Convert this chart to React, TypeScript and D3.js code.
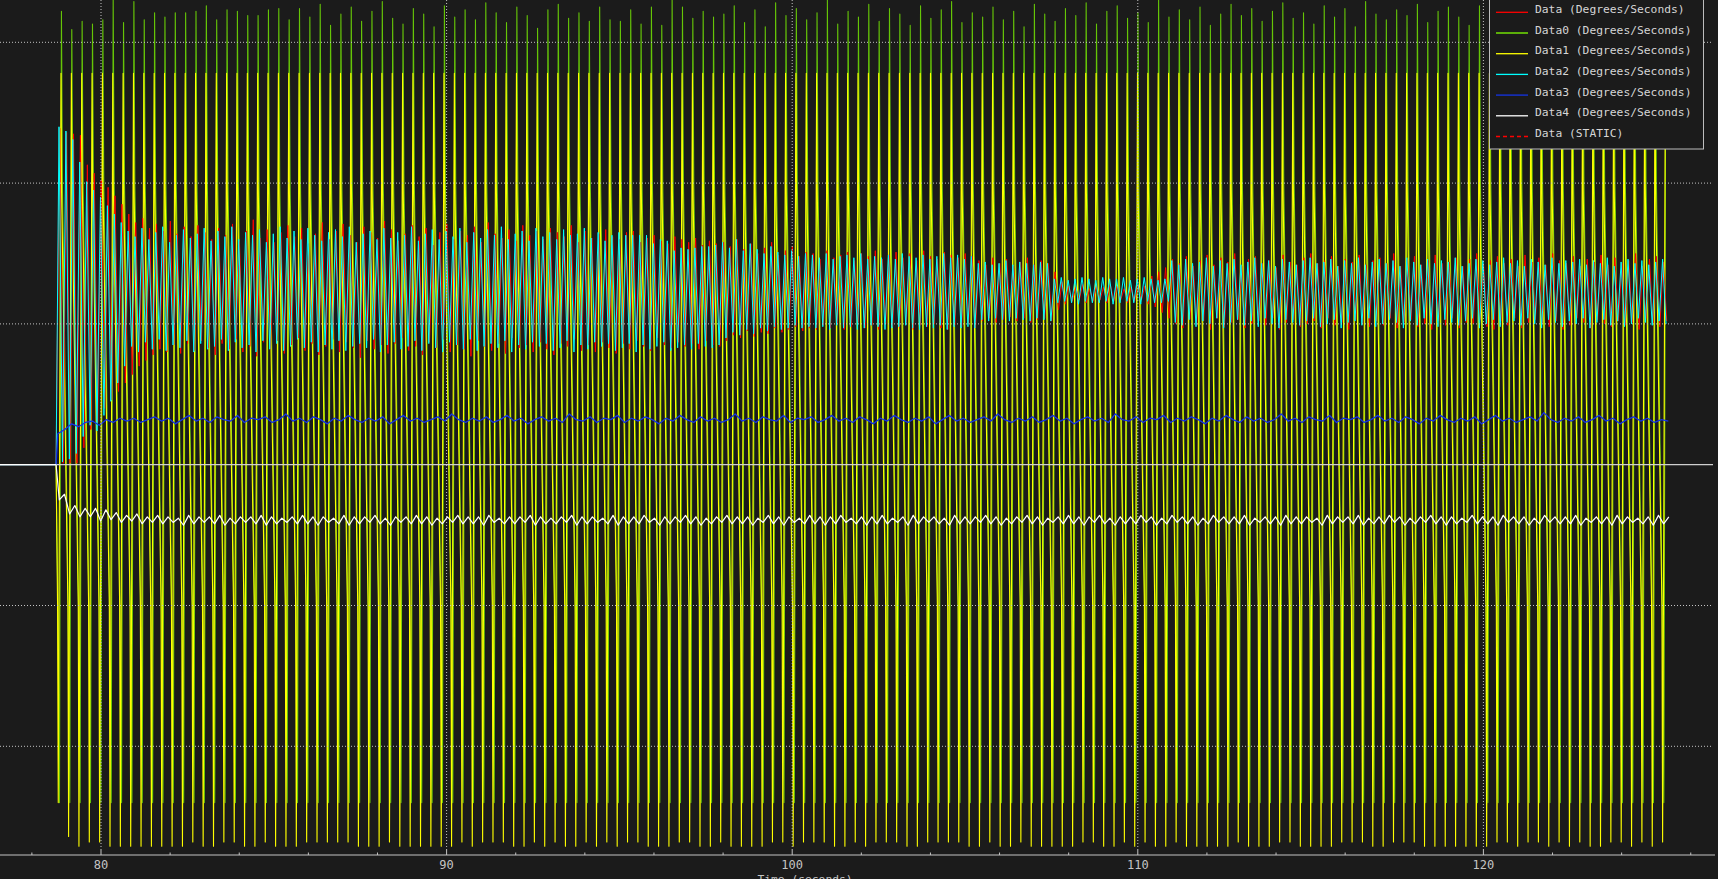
import React, { useEffect, useRef } from 'react';
import * as d3 from 'd3';

// ---- axis / legend text ----
const xTicks = [80, 90, 100, 110, 120];
const yGrid = [300, 200, 100, -100, -200];
const legendLabels = [
  'Data (Degrees/Seconds)',
  'Data0 (Degrees/Seconds)',
  'Data1 (Degrees/Seconds)',
  'Data2 (Degrees/Seconds)',
  'Data3 (Degrees/Seconds)',
  'Data4 (Degrees/Seconds)',
  'Data (STATIC)',
];

// ---- record timing (seconds) ----
const recordStart = 78.7; // every trace leaves zero here
const slowStart = 78.843; // first Data0/Data1 peak
const slowPeriod = 0.2995;
const riseTime = 0.08;
const fastStart = 78.785; // first Data2 peak
const fastPeriod = 0.2;
const dataLag = 0.02; // red trails cyan slightly
const data3Start = 78.75;
const data3Step = 0.2;

// levels where the Data0/Data1 fall changes slope
const fallKnees = [200, -100];

// Data1 (yellow): clipped peak level + per-cycle troughs
const data1Ceiling = 278;
const data1Troughs = [
  -240, -264,
  -271, -268, -268, -271, -271, -271, -271, -271, -271, -271, -271, -268, -271, -271, -268, -268, -271, -271,
  -268, -271, -271, -271, -268, -268, -268, -268, -268, -271, -271, -271, -268, -271, -271, -271, -271, -271,
  -271, -268, -271, -268, -268, -268, -271, -271, -268, -271, -268, -271, -271, -268,
  -271,
  -268, -271, -268, -268, -271, -271, -271, -268, -268, -271, -271, -268, -271, -271, -271, -271, -268, -268,
  -271, -268, -268, -268, -271, -271, -268, -271, -268, -268, -268, -271, -271, -268, -268, -268, -268, -271,
  -271, -268, -271, -271, -268, -271, -271, -271, -271, -271, -268, -268, -271, -271, -268, -271, -268, -271,
  -271, -268, -271, -271,
  -271, -271, -271, -268, -271, -271, -271, -268, -268, -271, -271, -271, -271, -268, -268, -268, -271, -271,
  -268, -268, -268, -271, -271, -271, -271, -271, -271, -271, -268, -268, -271, -268, -268, -271, -268, -271,
  -268, -271, -271, -268, -268, -271, -268, -271, -268,
];

// Data0 (green): per-cycle peaks + floor
const data0Floor = -240;
const data0Peaks = [
  322, 309, 315, 313, 316, 330, 314, 329, 316, 321,
  318, 321, 321, 322, 326, 316, 323, 322, 319, 319,
  323, 324, 316, 324, 318, 327, 312, 320, 325, 315,
  322, 329, 317, 313, 324, 320, 311, 326, 318, 323,
  316, 328, 321, 314, 325, 319, 310, 323, 327, 317,
  321, 315, 325, 316, 315, 323, 313, 325, 312, 330,
  325, 317, 322, 318, 320, 326, 314, 323, 311, 328,
  319, 324, 316, 321, 330, 313, 322, 318, 327, 315,
  324, 320, 312, 326, 317, 323, 329, 314, 321, 318,
  325, 316, 322, 311, 327, 320, 315, 324, 319, 328,
  313, 322, 326, 317, 321, 314, 330, 318, 323, 316,
  325, 312, 320, 327, 319, 324, 315, 322, 328, 317,
  321, 313, 326, 318, 324, 311, 329, 320, 316, 323,
  319, 327, 314, 322, 325, 318, 312, 326, 321, 317,
  324, 315, 328, 320, 313, 323, 319, 326, 316, 322,
  318, 325, 314, 321, 327, 320,
];

// Data2 (cyan): per-cycle highs / lows
const data2Highs = [
  240, 237, 231, 215, 201, 195, 190, 184, 178, 172,
  166, 162, 168, 160, 165, 169, 158, 163, 167, 161,
  164, 168, 159, 166, 162, 169, 160, 165, 163, 167,
  158, 164, 169, 161, 166, 160, 168, 163, 159, 165,
  167, 162, 169, 158, 164, 166, 160, 168, 161, 165,
  163, 169, 159, 164, 167, 160, 166, 162, 168, 158,
  165, 161, 167, 163, 169, 160, 164, 166, 159, 168,
  162, 165, 160, 167, 163, 164, 168, 161, 165, 159,
  163, 165, 163, 163, 163, 163, 157, 160, 159, 152,
  154, 153, 154, 155, 155, 156,
  158, 154, 160, 152, 157, 153, 150, 155, 151, 149, 152, 148, 150,
  149, 147, 150, 146, 148, 149, 147, 150, 146, 148, 147, 149, 146, 150, 148, 147, 149, 146, 148, 150, 147, 149, 146, 148,
  143, 144, 142, 143, 145, 142, 144, 143, 142, 144, 143,
  132, 133, 131, 132, 133, 132, 131, 133, 132, 132, 133, 131, 132, 133, 132, 131, 132,
  145, 142, 146, 143, 144, 147, 141, 145, 143, 146,
  142, 144, 147, 143, 145, 141, 146, 144, 142, 145,
  147, 143, 144, 146, 141, 145, 143, 147, 142, 144,
  146, 143, 145, 141, 147, 144, 142, 146, 143, 145,
  144, 147, 141, 143, 146, 145, 142, 144, 147, 143,
  145, 141, 146, 144, 142, 147, 143, 145, 144, 146,
  142, 145, 143, 147, 141, 144, 146, 143, 145, 142,
  144, 146,
];
const data2Lows = [
  2, 4, 8, 20, 28, 24, 35, 45, 58, 70,
  84, 80, 87, 82, 89, 81, 85, 83, 88, 80,
  86, 82, 84, 89, 81, 87, 83, 85, 80, 88,
  82, 86, 81, 84, 89, 83, 87, 80, 85, 82,
  88, 81, 84, 86, 83, 89, 80, 85, 87, 82,
  84, 88, 81, 86, 83, 80, 87, 85, 82, 89,
  81, 84, 86, 83, 88, 80, 85, 82, 87, 84,
  86, 81, 83, 88, 80, 85, 82, 87, 84, 86,
  81, 83, 86, 80, 85, 82, 84, 87, 81, 83,
  85, 82, 86, 84, 83, 85,
  90, 94, 92, 96, 93, 97, 95, 98, 96, 97, 99, 97, 98,
  97, 98, 96, 99, 97, 98, 96, 97, 99, 98, 96, 97, 98, 99, 97, 96, 98, 97, 99, 96, 98, 97, 98, 97,
  103, 102, 104, 103, 102, 104, 103, 102, 104, 103, 102,
  115, 116, 115, 114, 116, 115, 115, 116, 114, 115, 116, 115, 114, 116, 115, 115, 116,
  101, 99, 103, 98, 102, 100, 104, 97, 101, 103,
  99, 102, 98, 104, 100, 97, 103, 101, 99, 102,
  104, 98, 100, 103, 97, 101, 102, 99, 104, 98,
  100, 103, 101, 97, 102, 99, 104, 100, 98, 103,
  101, 99, 102, 104, 97, 100, 103, 98, 101, 102,
  99, 104, 100, 97, 103, 101, 98, 102, 100, 104,
  97, 101, 103, 99, 102, 98, 100, 104, 101, 99,
  102, 100,
];

// Data (red): per-cycle highs / lows
const dataHighs = [
  239, 236, 235, 234, 213, 207, 202, 197, 191, 185,
  178, 172, 175, 168, 171, 166, 173, 164, 169, 162,
  170, 165, 160, 168, 163, 171, 159, 166, 174, 161,
  167, 158, 165, 170, 162, 168, 157, 164, 172, 160,
  166, 171, 163, 158, 169, 165, 161, 173, 167, 159,
  164, 170, 162, 168, 156, 165, 171, 160, 166, 163,
  169, 158, 172, 164, 161, 167, 159, 170, 163, 166,
  160, 168, 165, 162, 170, 158, 166, 161, 164, 167,
  162, 160, 165, 166, 158, 161, 163, 159, 157, 162,
  160, 158, 161, 156, 159, 157,
  158, 155, 160, 153, 157, 150, 154, 158, 149, 152, 155, 148, 151,
  150, 146, 152, 147, 149, 151, 145, 150, 148, 152, 146, 149, 151, 147, 150, 145, 152, 148, 146, 151, 149, 147, 150, 148,
  145, 142, 147, 143, 146, 141, 144, 147, 142, 145, 143,
  137, 130, 127, 126, 128, 125, 127, 126, 128, 127, 125, 126, 128, 127, 134, 137, 140,
  146, 143, 148, 141, 145, 149, 142, 147, 144, 150,
  141, 146, 148, 143, 145, 140, 149, 144, 142, 147,
  150, 143, 145, 148, 141, 146, 144, 149, 142, 145,
  147, 143, 150, 141, 146, 148, 142, 145, 149, 143,
  144, 147, 141, 146, 150, 142, 145, 148, 143, 146,
  141, 149, 144, 147, 142, 150, 145, 143, 148, 141,
  146, 144, 149, 142, 147, 143, 145, 150, 141, 146,
  148, 144,
];
const dataLows = [
  1, 1, 1, 12, 25, 30, 40, 46, 52, 58,
  64, 70, 74, 78, 82, 80, 85, 79, 86, 81,
  88, 83, 78, 86, 82, 89, 80, 84, 77, 87,
  82, 88, 79, 85, 90, 81, 86, 78, 84, 89,
  80, 87, 83, 76, 88, 82, 85, 79, 86, 90,
  81, 84, 78, 87, 83, 89, 80, 85, 82, 77,
  88, 84, 81, 86, 79, 90, 83, 85, 80, 87,
  82, 78, 86, 84, 89, 81, 85, 80, 87, 83,
  79, 86, 82, 88, 84, 81, 90, 85, 83, 87,
  84, 86, 82, 88, 85, 84,
  88, 92, 90, 95, 91, 94, 93, 97, 94, 96, 98, 95, 97,
  96, 99, 97, 100, 96, 98, 101, 97, 99, 96, 100, 98, 97, 101, 96, 99, 98, 100, 97, 96, 99, 98, 100, 97,
  102, 104, 101, 103, 105, 102, 104, 101, 103, 104, 102,
  110, 114, 116, 117, 115, 116, 117, 115, 116, 117, 115, 116, 117, 114, 112, 108, 104,
  100, 97, 103, 99, 102, 96, 104, 98, 101, 103,
  97, 100, 102, 99, 104, 96, 101, 103, 98, 100,
  102, 97, 104, 99, 101, 96, 103, 100, 98, 102,
  99, 104, 97, 101, 103, 98, 100, 96, 102, 99,
  104, 97, 101, 100, 103, 98, 96, 102, 99, 104,
  97, 101, 103, 100, 98, 102, 96, 99, 104, 101,
  97, 103, 100, 98, 102, 99, 101, 96, 104, 100,
  98, 102,
];

// Data3 (blue): sampled every data3Step
const data3Values = [
  22, 25, 29, 27, 30, 31, 28, 32, 30, 33,
  31, 33, 30, 32, 34, 31, 33, 29, 32, 35,
  31, 33, 30, 34, 32, 31, 35, 30, 33, 32,
  34, 30, 32, 36, 31, 33, 30, 34, 32, 29,
  33, 31, 35, 32, 30, 33, 31, 34, 29, 32,
  35, 31, 33, 30, 32, 34, 31, 36, 32, 30,
  33, 31, 34, 30, 32, 35, 31, 33, 29, 32,
  34, 31, 33, 30, 36, 32, 31, 34, 30, 33,
  32, 35, 30, 33, 31, 34, 32, 29, 33, 31,
  35, 32, 30, 34, 31, 33, 30, 32, 36, 31,
  33, 30, 34, 32, 31, 35, 30, 33, 32, 34,
  30, 32, 35, 31, 33, 30, 34, 32, 29, 33,
  31, 35, 32, 30, 33, 31, 34, 29, 32, 35,
  31, 33, 30, 32, 34, 31, 36, 32, 30, 33,
  31, 34, 30, 32, 35, 31, 33, 29, 32, 34,
  31, 33, 30, 36, 32, 31, 34, 30, 33, 32,
  35, 30, 33, 31, 34, 32, 29, 33, 31, 35,
  32, 30, 34, 31, 33, 30, 32, 36, 31, 33,
  30, 34, 32, 31, 35, 30, 33, 32, 34, 30,
  32, 35, 31, 33, 30, 34, 32, 29, 33, 31,
  35, 32, 30, 33, 31, 34, 29, 32, 35, 31,
  33, 30, 32, 34, 31, 37, 32, 30, 33, 31,
  34, 30, 32, 35, 31, 33, 29, 32, 34, 31,
  33, 30, 32, 31,
];

// Data4 (white): per-cycle lows / highs
const data4Lows = [
  -25, -35, -37, -37, -40, -39, -41, -40, -42, -41,
  -42, -41, -43, -42, -41, -42, -43, -42, -41, -42,
  -43, -42, -41, -42, -42, -43, -41, -42, -43, -42,
  -41, -42, -43, -41, -42, -42, -43, -42, -41, -42,
  -42, -43, -41, -42, -42, -41, -43, -42, -42, -41,
  -43, -42, -41, -42, -43, -42, -42, -41, -43, -42,
  -41, -42, -43, -42, -41, -42, -42, -43, -41, -42,
  -43, -41, -42, -42, -43, -42, -41, -42, -43, -42,
  -42, -41, -43, -42, -41, -42, -43, -42, -42, -41,
  -42, -43, -42, -41, -42, -43, -41, -42, -42, -43,
  -41, -42, -43, -42, -42, -41, -43, -42, -41, -42,
  -43, -42, -41, -42, -42, -43, -41, -42, -43, -42,
  -42, -41, -43, -42, -41, -42, -43, -42, -42, -41,
  -43, -42, -41, -42, -43, -42, -41, -42, -42, -43,
  -41, -42, -43, -42, -41, -42, -42, -43, -41, -42,
  -43, -42, -41, -42, -43, -42,
];
const data4Highs = [
  -21, -29, -31, -31, -32, -34, -36, -35, -37, -36,
  -37, -38, -36, -37, -37, -36, -38, -37, -37, -36,
  -37, -38, -37, -36, -37, -37, -38, -36, -37, -37,
  -36, -38, -37, -37, -36, -37, -38, -37, -36, -37,
  -37, -36, -38, -37, -37, -36, -37, -38, -37, -36,
  -37, -37, -38, -36, -37, -37, -36, -38, -37, -37,
  -36, -37, -38, -37, -36, -37, -37, -38, -36, -37,
  -37, -38, -36, -37, -37, -36, -38, -37, -37, -36,
  -38, -37, -36, -37, -37, -38, -36, -37, -37, -36,
  -37, -38, -37, -36, -37, -38, -37, -36, -37, -37,
  -36, -38, -37, -37, -36, -37, -38, -36, -37, -37,
  -38, -36, -37, -37, -36, -38, -37, -37, -36, -37,
  -37, -38, -36, -37, -37, -36, -38, -37, -36, -37,
  -38, -37, -36, -37, -37, -38, -36, -37, -37, -36,
  -37, -37, -38, -36, -37, -37, -36, -38, -37, -37,
  -36, -37, -38, -37, -36, -37,
];

const BG = '#1b1b1b';
const GRID = '#c4c4c4';
const FONT = '"DejaVu Sans Mono", "Liberation Mono", monospace';
const colors = ['#ff0000', '#7fff00', '#ffff00', '#00ffff', '#1434e6', '#ffffff', '#ff0000'];

type Pt = [number, number];

const App = () => {
  const svgRef = useRef<SVGSVGElement>(null);

  useEffect(() => {
    document.body.style.margin = '0';
    document.body.style.background = BG;

    const width = 1718;
    const height = 879;
    const axisY = 855;

    const svg = d3.select(svgRef.current).attr('width', width).attr('height', height);
    svg.selectAll('*').remove();

    const x = d3.scaleLinear().domain([80, 120]).range([101, 1483.4]);
    const y = d3.scaleLinear().domain([-300, 300]).range([887.1, 42.3]);

    const line = d3
      .line<Pt>()
      .x(d => x(d[0]))
      .y(d => y(d[1]));

    const tLeft = x.invert(0);
    const lead = (): Pt[] => [
      [tLeft, 0],
      [recordStart, 0],
    ];
    const [kneeHi, kneeLo] = fallKnees;

    // green: turns ~1 px after the yellow one
    const data0Pts = lead();
    data0Peaks.forEach((v, k) => {
      const tp = slowStart + k * slowPeriod;
      data0Pts.push([tp - 0.09, kneeLo], [tp - 0.045, data0Floor], [tp + 0.012, v]);
      if (k < data0Peaks.length - 1) data0Pts.push([tp + 0.04, kneeHi]);
    });

    const data1Pts = lead();
    data1Troughs.forEach((v, k) => {
      const tp = slowStart + k * slowPeriod;
      data1Pts.push([tp - riseTime - 0.02, kneeLo], [tp - riseTime, v], [tp, data1Ceiling]);
      if (k < data1Troughs.length - 1) data1Pts.push([tp + 0.015, kneeHi]);
    });

    const data2Pts = lead();
    data2Highs.forEach((v, i) => {
      const t = fastStart + i * fastPeriod;
      data2Pts.push([t, v], [t + fastPeriod / 2, data2Lows[i]]);
    });

    const dataPts = lead();
    dataHighs.forEach((v, i) => {
      const t = fastStart + dataLag + i * fastPeriod;
      dataPts.push([t, v], [t + fastPeriod / 2, dataLows[i]]);
    });

    const data3Pts = lead();
    data3Values.forEach((v, j) => data3Pts.push([data3Start + j * data3Step, v]));

    const data4Pts = lead();
    data4Lows.forEach((v, k) => {
      const tp = slowStart + k * slowPeriod;
      data4Pts.push([tp - 0.05, v], [tp + 0.1, data4Highs[k]]);
    });

    const plot = svg.append('g');

    const series: [Pt[], string, number, number][] = [
      [data0Pts, colors[1], 1.1, 0.75],
      [data1Pts, colors[2], 1.1, 1],
      [dataPts, colors[0], 1, 1],
      [data2Pts, colors[3], 1, 1],
      [data3Pts, colors[4], 1.3, 1],
      [data4Pts, colors[5], 1.2, 1],
    ];
    series.forEach(([pts, c, w, op], i) => {
      plot
        .append('path')
        .datum(pts)
        .attr('d', line)
        .attr('fill', 'none')
        .attr('stroke', c)
        .attr('stroke-opacity', op)
        .attr('stroke-width', w)
        .attr('stroke-linejoin', 'round');
      if (i === 1) {
        // zero reference line sits above the yellow trace
        plot
          .append('line')
          .attr('x1', 0)
          .attr('x2', 1713)
          .attr('y1', y(0))
          .attr('y2', y(0))
          .attr('stroke', '#cfcfcf')
          .attr('stroke-width', 1.2);
      }
    });

    // dotted grid
    const grid = svg.append('g').attr('stroke', GRID).attr('stroke-dasharray', '1,2').attr('stroke-width', 1);
    yGrid.forEach(v => {
      grid.append('line').attr('x1', 0).attr('x2', 1713).attr('y1', y(v)).attr('y2', y(v));
    });
    xTicks.forEach(t => {
      grid.append('line').attr('x1', x(t)).attr('x2', x(t)).attr('y1', 0).attr('y2', axisY - 6);
    });

    // x axis
    const axis = svg.append('g');
    axis
      .append('line')
      .attr('x1', 0)
      .attr('x2', 1715)
      .attr('y1', axisY)
      .attr('y2', axisY)
      .attr('stroke', GRID)
      .attr('stroke-width', 1.2);
    d3.range(78, 127, 2).forEach(t => {
      const major = t % 10 === 0;
      axis
        .append('line')
        .attr('x1', x(t))
        .attr('x2', x(t))
        .attr('y1', axisY)
        .attr('y2', axisY - (major ? 6 : 2.5))
        .attr('stroke', GRID)
        .attr('stroke-width', 1);
    });
    xTicks.forEach(t => {
      axis
        .append('text')
        .attr('x', x(t))
        .attr('y', 869)
        .attr('text-anchor', 'middle')
        .attr('font-family', FONT)
        .attr('font-size', 12)
        .attr('fill', GRID)
        .text(String(t));
    });
    // axis title: only its upper part fits in the window, as in the source
    axis
      .append('text')
      .attr('x', 805)
      .attr('y', 883)
      .attr('text-anchor', 'middle')
      .attr('font-family', FONT)
      .attr('font-size', 11.3)
      .attr('fill', GRID)
      .text('Time (seconds)');

    // legend
    const legend = svg.append('g');
    legend
      .append('rect')
      .attr('x', 1489.5)
      .attr('y', -1)
      .attr('width', 214)
      .attr('height', 150)
      .attr('fill', BG)
      .attr('stroke', '#bdbdbd')
      .attr('stroke-width', 1);
    legendLabels.forEach((label, i) => {
      const ly = 12.3 + i * 20.7;
      legend
        .append('line')
        .attr('x1', 1496)
        .attr('x2', 1528)
        .attr('y1', ly)
        .attr('y2', ly)
        .attr('stroke', colors[i])
        .attr('stroke-width', 1.3)
        .attr('stroke-dasharray', i === 6 ? '4,3' : null);
      legend
        .append('text')
        .attr('x', 1535)
        .attr('y', ly + 0.5)
        .attr('font-family', FONT)
        .attr('font-size', 11.3)
        .attr('fill', '#d6d6d6')
        .text(label);
    });
  }, []);

  return <svg ref={svgRef} style={{ display: 'block', background: BG }}></svg>;
};

export default App;
